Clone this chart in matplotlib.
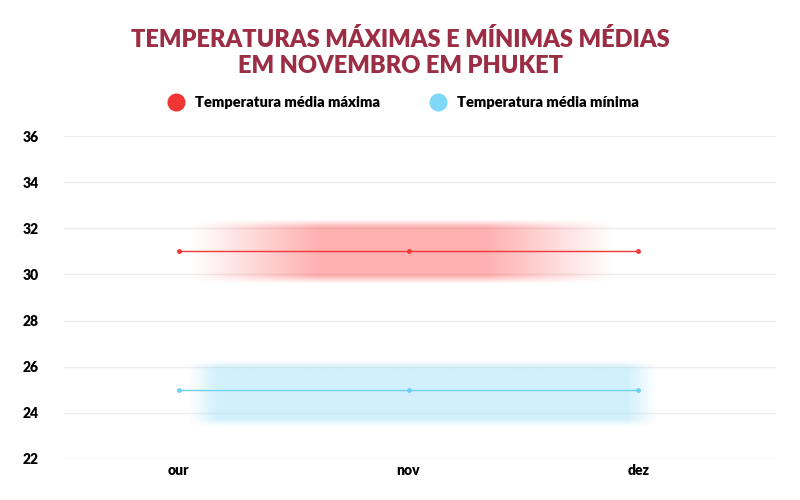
import numpy as np
import matplotlib
matplotlib.use("Agg")
import matplotlib.pyplot as plt
from matplotlib.lines import Line2D

months = ["our", "nov", "dez"]
tmax = [31, 31, 31]
tmin = [25, 25, 25]
yticks = [22, 24, 26, 28, 30, 32, 34, 36]

plt.rcParams['font.family'] = ['Lato', 'DejaVu Sans']
fig = plt.figure(figsize=(8, 5), dpi=100)
ax = fig.add_axes([0.08, 0.082, 0.89, 0.646])
x = np.arange(len(months))

def band(color, x0, x1, y0, y1, alpha, edge):
    nx, ny = 200, 60
    u = np.linspace(0, 1, nx)
    v = np.linspace(0, 1, ny)
    fx = np.clip(np.minimum(u, 1 - u) / edge[0], 0, 1)
    fy = np.clip(np.minimum(v, 1 - v) / edge[1], 0, 1)
    a = np.outer(fy, fx) * alpha
    img = np.zeros((ny, nx, 4))
    img[..., :3] = matplotlib.colors.to_rgb(color)
    img[..., 3] = a
    ax.imshow(img, extent=(x0, x1, y0, y1), aspect='auto', zorder=1, interpolation='bilinear')

band("#ff3b3b", 0.05, 1.9, 29.6, 32.4, 0.4, (0.3, 0.12))
band("#7fd6f7", 0.04, 2.08, 23.4, 26.3, 0.35, (0.06, 0.12))

ax.plot(x, tmax, color="#f0383a", lw=1, marker='o', ms=2.5, zorder=3)
ax.plot(x, tmin, color="#6fd0f2", lw=1, marker='o', ms=2.5, zorder=3)

ax.set_xlim(-0.5, 2.6)
ax.set_ylim(22, 36)
ax.set_yticks(yticks)
ax.set_xticks(x)
ax.set_xticklabels(months)
ax.grid(axis='y', color='#eeeeee', lw=1)
ax.set_axisbelow(True)
for s in ax.spines.values():
    s.set_visible(False)
ax.tick_params(length=0, labelsize=10)
for t in ax.get_xticklabels() + ax.get_yticklabels():
    t.set_fontweight('heavy')
ax.tick_params(axis='y', pad=18)

fig.text(0.5, 0.895, "TEMPERATURAS MÁXIMAS E MÍNIMAS MÉDIAS\nEM NOVEMBRO EM PHUKET",
         ha='center', va='center', color='#9b2d45', fontsize=17, fontweight='heavy', linespacing=1.25)
handles = [Line2D([], [], ls='', marker='o', ms=12, color='#f03535'),
           Line2D([], [], ls='', marker='o', ms=12, color='#7fd8f8')]
fig.legend(handles, ["Temperatura média máxima", "Temperatura média mínima"],
           loc='center', bbox_to_anchor=(0.5, 0.795), ncol=2, frameon=False,
           prop={'weight': 'heavy', 'size': 10.5}, handletextpad=0.3, columnspacing=3)
fig.savefig("out.png", dpi=100)
